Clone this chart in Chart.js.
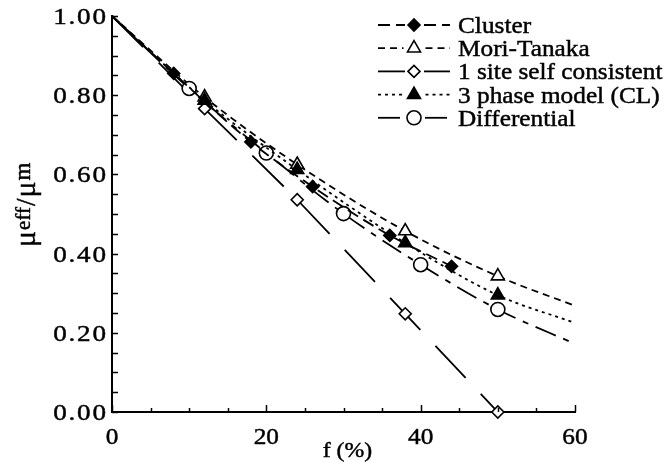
<!DOCTYPE html>
<html>
<head>
<meta charset="utf-8">
<script src="https://cdn.jsdelivr.net/npm/chart.js@4/dist/chart.umd.min.js"></script>
<style>
  html, body { margin: 0; padding: 0; background: #fff; }
  canvas { display: block; }
  .fontwarm { position: absolute; left: -9999px; top: 0; font-family: "Liberation Serif"; font-size: 23px; }
</style>
</head>
<body>
<span class="fontwarm">Cluster 0.20 μ</span>
<canvas id="c" width="667" height="462"></canvas>
<script>
// Void volume fraction f (%) against normalised shear modulus for each model.
// The *Marked arrays say which computed points carry a symbol.
const clusterF      = [0, 8, 18, 26, 36, 44];
const clusterMu     = [1.00, 0.855, 0.682, 0.569, 0.446, 0.368];
const clusterMarked = [false, true, true, true, true, true];

const moriF      = [0, 12, 24, 38, 50, 60];
const moriMu     = [1.00, 0.795, 0.625, 0.457, 0.343, 0.268];
const moriMarked = [false, true, true, true, true, false];

const selfConsF      = [0, 12, 24, 38, 50, 60];
const selfConsMu     = [1.00, 0.766, 0.536, 0.248, 0.000, 0.000];
const selfConsMarked = [false, true, true, true, true, false];

const threePhaseF      = [0, 12, 24, 38, 50, 60];
const threePhaseMu     = [1.00, 0.787, 0.612, 0.427, 0.295, 0.225];
const threePhaseMarked = [false, true, true, true, true, false];

const diffF      = [0, 10, 20, 30, 40, 50, 60];
const diffMu     = [1.00, 0.817, 0.654, 0.501, 0.372, 0.259, 0.172];
const diffMarked = [false, true, true, true, true, true, false];

const seriesNames = ['Cluster', 'Mori-Tanaka', '1 site self consistent', '3 phase model (CL)', 'Differential'];

const xTickValues = [0, 20, 40, 60];
const xTickLabels = ['0', '20', '40', '60'];
const yTickValues = [0, 0.2, 0.4, 0.6, 0.8, 1.0];
const yTickLabels = ['0.00', '0.20', '0.40', '0.60', '0.80', '1.00'];
const xMinorStep = 5;
const yMinorStep = 0.05;

const SERIF = '"Liberation Serif", "Times New Roman", serif';

function makeSeries(label, fs, mus, marked, style) {
  return {
    label,
    data: fs.map((f, i) => ({ x: f, y: mus[i] })),
    borderColor: '#000',
    borderWidth: 1.8,
    borderDash: style.dash,
    fill: false,
    cubicInterpolationMode: style.straight ? 'default' : 'monotone',
    tension: 0,
    pointStyle: style.point,
    pointRadius: (c) => (marked[c.dataIndex] ? style.r : 0),
    pointHoverRadius: (c) => (marked[c.dataIndex] ? style.r : 0),
    pointBackgroundColor: style.fillColor,
    pointBorderColor: '#000',
    pointBorderWidth: 1.6,
    clip: false,
    legendR: style.r
  };
}

const cluster    = makeSeries(seriesNames[0], clusterF, clusterMu, clusterMarked,
                    { dash: [12, 6], point: 'rectRot', r: 6, fillColor: '#000' });
const mori       = makeSeries(seriesNames[1], moriF, moriMu, moriMarked,
                    { dash: [7, 5], point: 'triangle', r: 7.5, fillColor: '#fff' });
const selfCons   = makeSeries(seriesNames[2], selfConsF, selfConsMu, selfConsMarked,
                    { dash: [44, 22], point: 'rectRot', r: 6, fillColor: '#fff', straight: true });
const threePhase = makeSeries(seriesNames[3], threePhaseF, threePhaseMu, threePhaseMarked,
                    { dash: [3, 4], point: 'triangle', r: 7.5, fillColor: '#000' });
const diff       = makeSeries(seriesNames[4], diffF, diffMu, diffMarked,
                    { dash: [22, 8, 6, 8], point: 'circle', r: 7, fillColor: '#fff' });

// first dataset is painted last (on top)
const drawStack = [threePhase, cluster, diff, selfCons, mori];
const legendList = [cluster, mori, selfCons, threePhase, diff];

// text with a slight horizontal stretch and a touch of extra ink, as in the printed figure
function stretchedText(ctx, str, x, y, font, align, sx, spacing) {
  ctx.save();
  ctx.font = font;
  ctx.letterSpacing = (spacing || 0) + 'px';
  ctx.textAlign = 'left';
  ctx.textBaseline = 'alphabetic';
  const w = ctx.measureText(str).width * sx - (spacing || 0) * sx;
  const x0 = align === 'right' ? x - w : align === 'center' ? x - w / 2 : x;
  ctx.translate(x0, y);
  ctx.scale(sx, 1);
  ctx.fillStyle = '#000';
  ctx.strokeStyle = '#000';
  ctx.lineWidth = 0.45;
  ctx.fillText(str, 0, 0);
  ctx.strokeText(str, 0, 0);
  ctx.restore();
}

// rotated y-axis title: μ^eff / μ^m
function drawYTitle(ctx, baseX, baseY) {
  const parts = [
    { t: '\u03bc', size: 30, dy: 0 },
    { t: 'eff',    size: 21, dy: -5 },
    { t: '/',      size: 27, dy: 0 },
    { t: '\u03bc', size: 30, dy: 0 },
    { t: 'm',      size: 23, dy: -5 }
  ];
  ctx.save();
  ctx.translate(baseX, baseY);
  ctx.rotate(-Math.PI / 2);
  ctx.fillStyle = '#000';
  ctx.strokeStyle = '#000';
  ctx.lineWidth = 0.45;
  ctx.textBaseline = 'alphabetic';
  ctx.textAlign = 'left';
  let at = 0;
  for (const p of parts) {
    ctx.font = p.size + 'px ' + SERIF;
    ctx.fillText(p.t, at, p.dy);
    ctx.strokeText(p.t, at, p.dy);
    at += ctx.measureText(p.t).width + 1;
  }
  ctx.restore();
}

const paperAxes = {
  id: 'paperAxes',
  afterDraw(chart) {
    const { ctx, chartArea: a } = chart;
    const xs = chart.scales.x, ys = chart.scales.y;
    ctx.save();
    ctx.strokeStyle = '#000';
    ctx.setLineDash([]);
    ctx.lineWidth = 1.5;

    // inward tick marks
    for (let v = 0; v <= 1.0001; v += yMinorStep) {
      const py = Math.round(ys.getPixelForValue(v)) + 0.5;
      ctx.beginPath(); ctx.moveTo(a.left, py); ctx.lineTo(a.left + 6, py); ctx.stroke();
    }
    for (let v = 0; v <= 60.001; v += xMinorStep) {
      const px = Math.round(xs.getPixelForValue(v)) + 0.5;
      const len = (Math.round(v) % 20 === 0) ? 7 : 4;
      ctx.beginPath(); ctx.moveTo(px, a.bottom); ctx.lineTo(px, a.bottom - len); ctx.stroke();
    }

    // tick labels
    yTickValues.forEach((v, i) => {
      stretchedText(ctx, yTickLabels[i], a.left - 6, ys.getPixelForValue(v) + 8,
        '23px ' + SERIF, 'right', 1.18, 1.5);
    });
    xTickValues.forEach((v, i) => {
      stretchedText(ctx, xTickLabels[i], xs.getPixelForValue(v), a.bottom + 32,
        '23px ' + SERIF, 'center', 1.1, 0);
    });

    // axis titles
    stretchedText(ctx, 'f (%)', (a.left + a.right) / 2 + 4, a.bottom + 45, '22px ' + SERIF, 'center', 1.08, 0);
    drawYTitle(ctx, 35, 247);

    // legend: line sample, symbol and model name
    legendList.forEach((ds, i) => {
      const cy = 25 + i * 23.2;
      const mx = 414, r = ds.legendR;
      ctx.save();
      ctx.strokeStyle = '#000';
      ctx.lineWidth = ds.borderWidth;
      ctx.setLineDash(ds.borderDash);
      ctx.beginPath(); ctx.moveTo(378, cy); ctx.lineTo(mx - r - 3, cy); ctx.stroke();
      ctx.beginPath(); ctx.moveTo(mx + r + 4, cy); ctx.lineTo(450, cy); ctx.stroke();
      ctx.setLineDash([]);
      ctx.fillStyle = ds.pointBackgroundColor;
      ctx.strokeStyle = '#000';
      ctx.lineWidth = ds.pointBorderWidth;
      Chart.helpers.drawPoint(ctx, { pointStyle: ds.pointStyle, radius: r, rotation: 0, borderWidth: ds.pointBorderWidth }, mx, cy);
      ctx.restore();
      stretchedText(ctx, ds.label, 458, cy + 8, '23px ' + SERIF, 'left', 1.1, 0);
    });
    ctx.restore();
  }
};

function build() {
  new Chart(document.getElementById('c'), {
    type: 'line',
    data: { datasets: drawStack },
    options: {
      responsive: false,
      animation: false,
      devicePixelRatio: 1,
      layout: { padding: { left: 112, right: 92, top: 16, bottom: 50 } },
      plugins: { legend: { display: false }, tooltip: { enabled: false } },
      scales: {
        x: {
          type: 'linear', min: 0, max: 60,
          grid: { display: false, drawTicks: false },
          ticks: { display: false },
          border: { display: true, color: '#000', width: 2 }
        },
        y: {
          type: 'linear', min: 0, max: 1,
          grid: { display: false, drawTicks: false },
          ticks: { display: false },
          border: { display: true, color: '#000', width: 2 }
        }
      }
    },
    plugins: [paperAxes]
  });
}

// make sure the serif face is ready before the canvas text is painted
Promise.all([
  document.fonts.load('23px "Liberation Serif"'),
  document.fonts.load('17px "Liberation Serif"')
]).then(build, build);
</script>
</body>
</html>
